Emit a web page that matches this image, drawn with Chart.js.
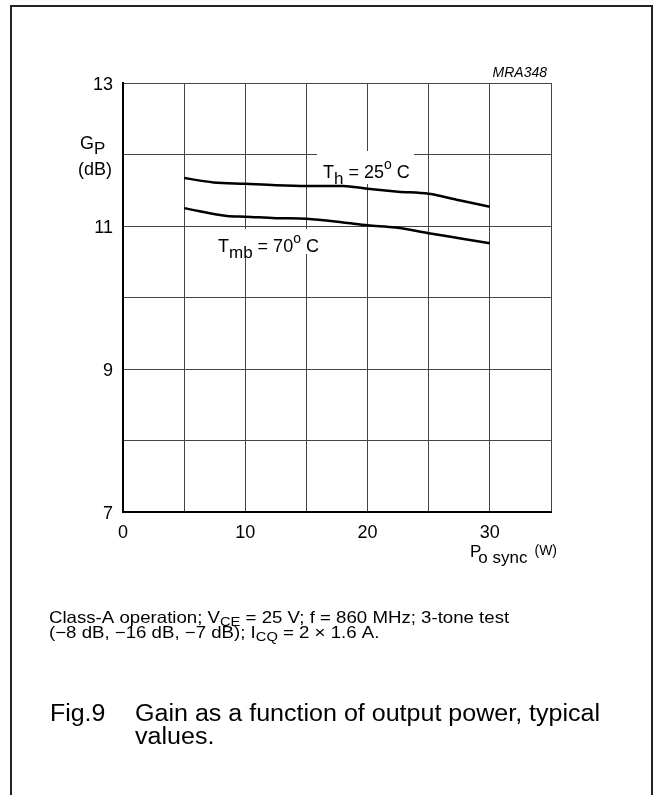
<!DOCTYPE html>
<html>
<head>
<meta charset="utf-8">
<script src="https://cdn.jsdelivr.net/npm/chart.js@4"></script>
<style>
  html, body { margin: 0; padding: 0; background: #fff; overflow: hidden; }
  #wrap { position: relative; width: 653px; height: 795px; }
  #c { position: absolute; left: 0; top: 0; }
  #frame { position: absolute; left: 10px; top: 5px; width: 643px; height: 800px;
           border: 2px solid #222; border-bottom: none; box-sizing: border-box; }
</style>
</head>
<body>
<div id="wrap">
  <canvas id="c" width="653" height="795"></canvas>
  <div id="frame"></div>
</div>
<script>
// output power P_o sync (W) and gain G_P (dB)
const powerTh = [5, 7.4, 10, 12.5, 15, 18, 20, 22.5, 25, 27.5, 30];
const gainTh = [11.67, 11.61, 11.59, 11.57, 11.56, 11.56, 11.52, 11.48, 11.45, 11.36, 11.27];
const powerTmb = [5, 8.5, 10, 12.5, 15, 18, 20, 22.3, 25, 27.5, 30];
const gainTmb = [11.25, 11.14, 11.13, 11.11, 11.10, 11.05, 11.01, 10.98, 10.90, 10.83, 10.76];
const xTickLabels = [0, 10, 20, 30];
const yTickLabels = [7, 9, 11, 13];

const FONT = '"Liberation Sans", Arial, Helvetica, sans-serif';

function pts(xs, ys) {
    return xs.map((x, i) => ({ x: x, y: ys[i] }));
}

// draws text made of pieces with own size and vertical offset (sub/superscripts)
// sx stretches the whole run horizontally
function rich(ctx, x, y, parts, sx) {
    ctx.save();
    ctx.translate(x, y);
    ctx.scale(sx || 1, 1);
    let cx = 0;
    parts.forEach(p => {
        ctx.font = (p[3] || '') + ' ' + p[1] + 'px ' + FONT;
        cx += (p[4] || 0);
        ctx.fillText(p[0], cx, p[2]);
        cx += ctx.measureText(p[0]).width;
    });
    ctx.restore();
}

const labelBoxes = {
    id: 'labelBoxes',
    beforeDatasetsDraw(chart) {
        let ctx = chart.ctx;
        ctx.save();
        ctx.fillStyle = '#fff';
        ctx.fillRect(317, 151, 97, 33);
        ctx.fillRect(215, 229, 106, 25);
        ctx.restore();
    }
};

const texts = {
    id: 'texts',
    afterDraw(chart) {
        let ctx = chart.ctx;
        ctx.save();
        ctx.fillStyle = '#000';
        ctx.textBaseline = 'alphabetic';
        ctx.textAlign = 'left';

        rich(ctx, 323, 178, [['T', 18, 0], ['h', 17, 6], [' = 25', 18, 0], ['o', 14, -9], [' C', 18, 0]]);
        rich(ctx, 218, 252, [['T', 18, 0], ['mb', 17, 6], [' = 70', 18, 0], ['o', 14, -9], [' C', 18, 0]]);

        rich(ctx, 80, 149, [['G', 18, 0], ['P', 17, 5]]);
        rich(ctx, 78, 175, [['(dB)', 18, 0]]);

        rich(ctx, 470, 557, [['P', 17, 0], ['o sync', 17, 6, '', -3], ['(W)', 14, -2, '', 7]]);

        ctx.textAlign = 'right';
        ctx.font = 'italic 14px ' + FONT;
        ctx.fillText('MRA348', 547, 77);
        ctx.textAlign = 'left';

        rich(ctx, 49, 623, [['Class-A operation; V', 16.5, 0], ['CE', 13, 3], [' = 25 V; f = 860 MHz; 3-tone test', 16.5, 0]], 1.13);
        rich(ctx, 49, 638, [['(\u22128 dB, \u221216 dB, \u22127 dB); I', 16.5, 0], ['CQ', 13, 3], [' = 2 \u00d7 1.6 A.', 16.5, 0]], 1.13);

        rich(ctx, 50, 721, [['Fig.9', 23.5, 0]], 1.06);
        rich(ctx, 135, 721, [['Gain as a function of output power, typical', 23.5, 0]], 1.066);
        rich(ctx, 135, 744, [['values.', 23.5, 0]], 1.066);
        ctx.restore();
    }
};

new Chart(document.getElementById('c'), {
    type: 'line',
    data: {
        datasets: [
            {
                label: 'Th = 25 C',
                data: pts(powerTh, gainTh),
                borderColor: '#000',
                borderWidth: 2.5,
                pointRadius: 0,
                fill: false,
                cubicInterpolationMode: 'monotone'
            },
            {
                label: 'Tmb = 70 C',
                data: pts(powerTmb, gainTmb),
                borderColor: '#000',
                borderWidth: 2.5,
                pointRadius: 0,
                fill: false,
                cubicInterpolationMode: 'monotone'
            }
        ]
    },
    options: {
        responsive: false,
        animation: false,
        devicePixelRatio: 1,
        layout: { padding: { left: 0, right: 102, top: 83, bottom: 0 } },
        plugins: { legend: { display: false }, tooltip: { enabled: false } },
        scales: {
            x: {
                type: 'linear',
                min: 0, max: 35,
                afterFit: s => { s.height = 283; },
                ticks: {
                    stepSize: 5,
                    padding: 10,
                    maxRotation: 0,
                    autoSkip: false,
                    color: '#000',
                    font: { size: 18, family: FONT },
                    callback: v => xTickLabels.includes(v) ? String(v) : ''
                },
                grid: { color: '#444', lineWidth: 1, drawTicks: false },
                border: { color: '#000', width: 2 }
            },
            y: {
                type: 'linear',
                min: 7, max: 13,
                afterFit: s => { s.width = 123; },
                ticks: {
                    stepSize: 1,
                    padding: 10,
                    labelOffset: 2,
                    autoSkip: false,
                    color: '#000',
                    font: { size: 18, family: FONT },
                    callback: v => yTickLabels.includes(v) ? String(v) : ''
                },
                grid: { color: '#444', lineWidth: 1, drawTicks: false },
                border: { color: '#000', width: 2 }
            }
        }
    },
    plugins: [labelBoxes, texts]
});
</script>
</body>
</html>
